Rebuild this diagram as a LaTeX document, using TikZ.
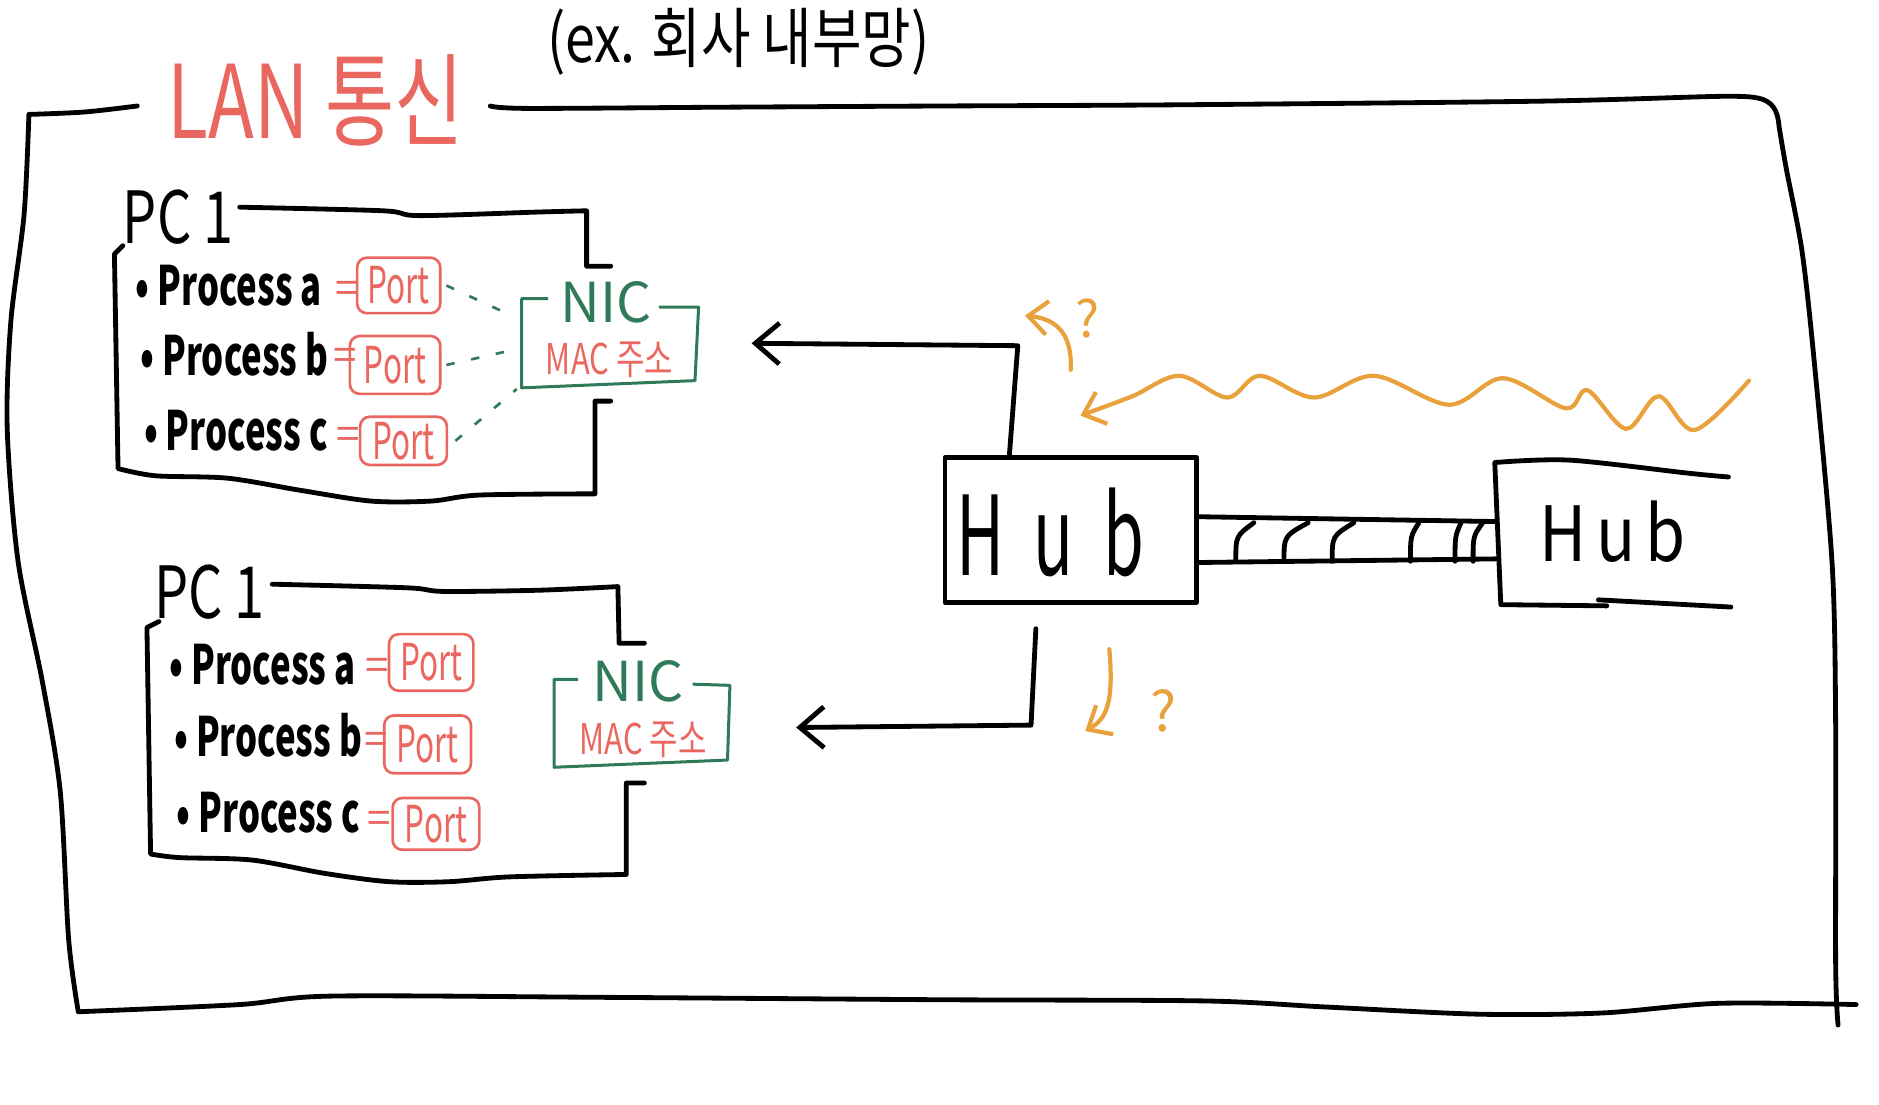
\documentclass[tikz,border=0pt]{standalone}
\usepackage{fontspec}
\usepackage{graphicx}
\setmainfont{Noto Sans CJK KR}
\usetikzlibrary{arrows.meta}
\definecolor{pred}{HTML}{E9675F}
\definecolor{pgreen}{HTML}{2F7A58}
\definecolor{porange}{HTML}{E9A13B}
\newcommand{\sx}[2]{\scalebox{#1}[1]{#2}}
\newcommand{\fs}[1]{\fontsize{#1}{#1}\selectfont}
\begin{document}
\begin{tikzpicture}[x=0.1mm,y=-0.1mm,
  ink/.style={line width=0.4mm, line cap=round, line join=round},
  oink/.style={draw=porange, line width=0.35mm, line cap=round, line join=round},
  barb/.style={-{Straight Barb[length=2mm,width=3.4mm]}},
  obarb/.style={-{Straight Barb[length=1.6mm,width=2.8mm]}},
  portbox/.style={draw=pred, line width=0.22mm, rounded corners=0.8mm, minimum height=4.5mm, inner sep=0pt, text=pred, font=\fs{12pt}},
  proc/.style={anchor=base west, inner sep=0pt, font=\fs{12.8pt}\bfseries},
  eqs/.style={text=pred, inner sep=0pt, font=\fs{10pt}},
  nicbox/.style={draw=pgreen, line width=0.25mm, line join=round},
  nictext/.style={text=pgreen, inner sep=0pt, font=\fs{13pt}},
  mactext/.style={text=pred, inner sep=0pt, font=\fs{10pt}},
  pctext/.style={inner sep=0pt, font=\fs{17pt}},
  dash1/.style={draw=pgreen, line width=0.22mm, dash pattern=on 0.7mm off 1.4mm},
  qmark/.style={text=porange, inner sep=0pt, font=\fs{12pt}}
]
\useasboundingbox (0,0) rectangle (1560,917);

% ---------- titles ----------
\node[inner sep=0pt, font=\fs{15.5pt}] (title) at (613,35) {\sx{0.82}{(ex. 회사 내부망)}};
\node[inner sep=0pt, text=pred, font=\fs{24pt}] (lan) at (262,83) {\sx{0.74}{LAN 통신}};

% ---------- outer frame ----------
\draw[ink] plot[smooth, tension=0.5] coordinates {(114,88) (70,93) (24,95)}
  -- plot[smooth, tension=0.5] coordinates {(24,95) (20,178) (9,267) (6,356) (15,466) (35,565) (50,657) (57,780) (65,840)}
  -- plot[smooth, tension=0.5] coordinates {(65,840) (199,834) (274,827) (500,828) (780,830) (1000,831) (1100,836) (1228,842) (1330,841) (1426,833) (1541,834)};
\draw[ink] plot[smooth, tension=0.5] coordinates {(407,88) (438,90) (600,89) (780,88) (979,87) (1278,84) (1427,80) (1457,81)}
  .. controls (1472,83) and (1476,92) .. (1477,105)
  -- plot[smooth, tension=0.5] coordinates {(1477,105) (1483,140) (1496,208) (1506,298) (1521,467) (1524,600) (1524,800) (1526,851)};

% ---------- PC 1 (top) ----------
\node[pctext] (pc1) at (148,180) {\sx{0.75}{PC 1}};
\draw[ink] plot[smooth, tension=0.5] coordinates {(199,172) (318,175) (348,179) (448,176) (487,175)} -- (487,221) -- (507,221);
\draw[ink] (102,204) -- (95,211) -- (98,389)
  -- plot[smooth, tension=0.5] coordinates {(98,389) (129,395) (189,397) (249,407) (308,416) (358,416) (398,411) (494,410)}
  -- (494,333) -- (507,333);
\node[proc] (pa1) at (112,254) {\sx{0.64}{• Process a}};
\node[proc] (pb1) at (116,312) {\sx{0.64}{• Process b}};
\node[proc] (pc1p) at (119,374) {\sx{0.64}{• Process c}};
\node[eqs] (ea1) at (288,243) {=};
\node[eqs] (eb1) at (287,298) {=};
\node[eqs] (ec1) at (289,364) {=};
\node[portbox, minimum width=6.9mm, minimum height=4.6mm] (porta1) at (331,237) {\sx{0.62}{Port}};
\node[portbox, minimum width=7.5mm, minimum height=4.8mm] (portb1) at (328,303) {\sx{0.62}{Port}};
\node[portbox, minimum width=7.2mm, minimum height=4.0mm] (portc1) at (335,366) {\sx{0.62}{Port}};
\node[nictext] (nic1) at (503,251) {NIC};
\draw[nicbox] (455,248) -- (433,248) -- (433,322) -- (577,316) -- (580,255) -- (547,255);
\node[mactext] (mac1) at (506,299) {\sx{0.73}{MAC 주소}};
\coordinate (n1a) at (416,258);
\coordinate (n1b) at (424,291);
\coordinate (n1c) at (429,323);
\draw[dash1] (porta1.east) ++(0.4mm,0) -- (n1a);
\draw[dash1] (portb1.east) ++(0.4mm,0) -- (n1b);
\draw[dash1] (portc1.east) ++(0.6mm,0) -- (n1c);

% ---------- PC 1 (bottom) ----------
\node[pctext] (pc2) at (174,492) {\sx{0.75}{PC 1}};
\draw[ink] plot[smooth, tension=0.5] coordinates {(226,485) (338,488) (368,491) (448,490) (513,487)} -- (514,534) -- (535,534);
\draw[ink] (132,516) -- (122,521) -- (125,708)
  -- plot[smooth, tension=0.5] coordinates {(125,709) (149,712) (209,714) (269,725) (323,732) (373,732) (423,728) (520,726)}
  -- (520,650) -- (535,650);
\node[proc] (pa2) at (140,568) {\sx{0.64}{• Process a}};
\node[proc] (pb2) at (144,628) {\sx{0.64}{• Process b}};
\node[proc] (pc2p) at (146,691) {\sx{0.64}{• Process c}};
\node[eqs] (ea2) at (313,556) {=};
\node[eqs] (eb2) at (312,617) {=};
\node[eqs] (ec2) at (315,683) {=};
\node[portbox, minimum width=7.0mm, minimum height=4.7mm] (porta2) at (358,550) {\sx{0.62}{Port}};
\node[portbox, minimum width=7.2mm, minimum height=4.8mm] (portb2) at (355,618) {\sx{0.62}{Port}};
\node[portbox, minimum width=7.2mm, minimum height=4.3mm] (portc2) at (362,684) {\sx{0.62}{Port}};
\node[nictext] (nic2) at (530,566) {NIC};
\draw[nicbox] (480,564) -- (460,564) -- (460,637) -- (604,631) -- (606,569) -- (575,568);
\node[mactext] (mac2) at (534,614) {\sx{0.73}{MAC 주소}};

% ---------- Hubs ----------
\node[draw, ink, minimum width=20.9mm, minimum height=12mm, inner sep=0pt] (hubL) at (889,440) {};
\node[inner sep=0pt, font=\fs{26pt}] (hubLt) at (872,442) {\sx{0.6}{\addfontfeature{LetterSpace=45}Hub}};
\coordinate (hubRw) at (1242,448);
\draw[ink] plot[smooth, tension=0.5] coordinates {(1435,396) (1403,393) (1303,382) (1241,384)} -- (1246,502) -- (1334,503);
\draw[ink] (1327,498) -- (1437,504);
\node[inner sep=0pt, font=\fs{18pt}] (hubR) at (1339,441) {\sx{0.85}{\addfontfeature{LetterSpace=15}Hub}};
% link between hubs
\draw[ink] ([yshift=1.1mm]hubL.east) -- ([yshift=1.5mm]hubRw);
\draw[ink] ([yshift=-2.7mm]hubL.east) -- ([yshift=-1.6mm]hubRw);
\foreach \tx/\bx in {1041/1026, 1086/1066, 1124/1106, 1178/1171, 1213/1208, 1231/1223}{
  \draw[ink] (\tx,434) .. controls (\bx,445) .. (\bx,466);
}

% ---------- arrows from hub ----------
\coordinate (a1) at (624,285);
\coordinate (a2) at (661,604);
\draw[ink, barb] ([xshift=-5.1mm]hubL.north) -- (845,287) -- (a1);
\draw[ink, barb] ([xshift=-2.9mm,yshift=-2mm]hubL.south) -- (856,602) -- (a2);

% ---------- orange ----------
\draw[oink, obarb] (889,307) .. controls (890,280) and (880,265) .. (851,262);
\node[qmark] (q1) at (903,264) {?};
\draw[oink, obarb] plot[smooth, tension=0.55] coordinates {(1452,316) (1407,357) (1377,329) (1350,356) (1318,324) (1300,339) (1248,314) (1203,336) (1141,312) (1091,330) (1046,312) (1019,330) (979,312) (940,329) (897,345)};
\draw[oink, obarb] (921,539) .. controls (925,585) and (918,597) .. (901,607);
\node[qmark, font=\fs{13pt}] (q2) at (966,590) {?};
\end{tikzpicture}
\end{document}
